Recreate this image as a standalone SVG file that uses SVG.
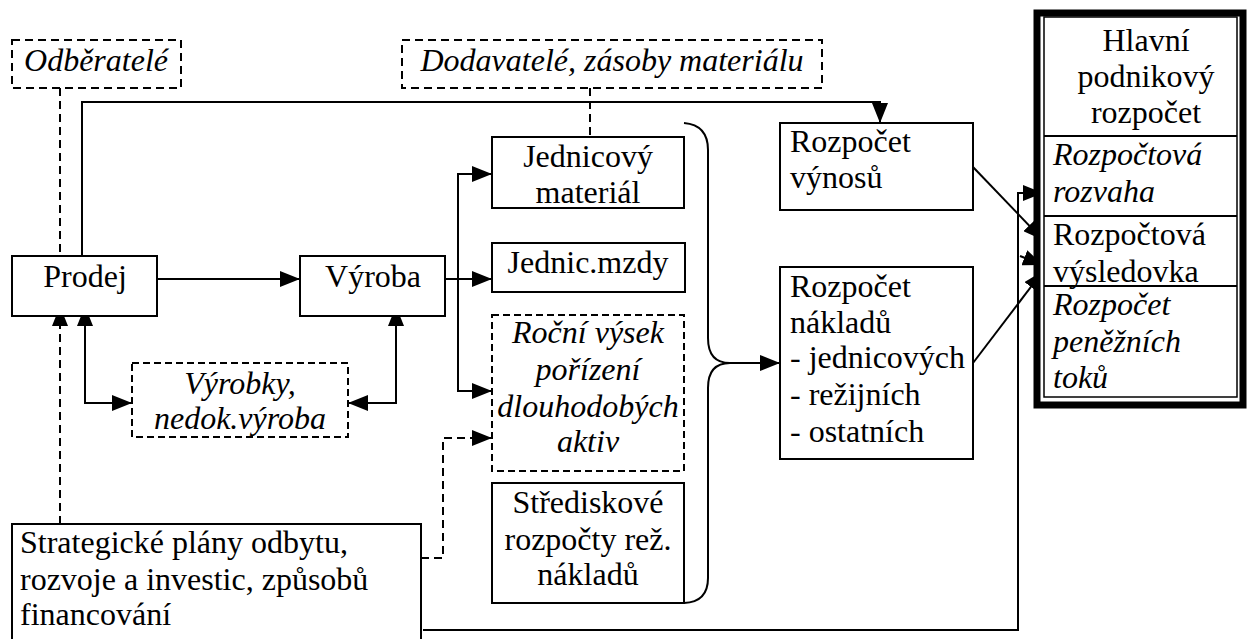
<svg xmlns="http://www.w3.org/2000/svg" width="1248" height="639" viewBox="0 0 1248 639" font-family="Liberation Serif, Times New Roman, serif" font-size="32">
  <style>
    .it { font-style: italic; }
    .c { text-anchor: middle; }
    .box { fill: #fff; stroke: #000; stroke-width: 2; }
    .dbox { fill: #fff; stroke: #000; stroke-width: 2; stroke-dasharray: 8 5; }
    .dbox2 { fill: #fff; stroke: #000; stroke-width: 2; stroke-dasharray: 7 4; }
    .ln { fill: none; stroke: #000; stroke-width: 2; }
    .dln { fill: none; stroke: #000; stroke-width: 2; stroke-dasharray: 8 5; }
    .arr { marker-end: url(#ah); }
    .arr2 { marker-start: url(#ah); marker-end: url(#ah); }
  </style>
  <defs>
    <marker id="ah" viewBox="0 0 20 16" refX="20" refY="8" markerWidth="20" markerHeight="16" markerUnits="userSpaceOnUse" orient="auto-start-reverse">
      <path d="M0,0 L20,8 L0,16 Z" fill="#000"/>
    </marker>
  </defs>
  <rect width="1248" height="639" fill="#fff"/>

  <!-- connectors -->
  <g id="connectors">
    <!-- customers to sales, plans to sales -->
    <path class="dln" d="M60,88 V256"/>
    <path class="dln arr" d="M60,524 V306"/>
    <!-- sales to revenue budget -->
    <path class="ln arr" d="M82,256 V102 H880 V123"/>
    <!-- sales to production -->
    <path class="ln arr" d="M157,279 H300"/>
    <!-- stock links -->
    <path class="ln arr2" d="M85,306 V403 H132"/>
    <path class="ln arr2" d="M396,306 V403 H348"/>
    <!-- production branches -->
    <path class="ln arr" d="M445,279 H492"/>
    <path class="ln arr2" d="M492,174 H458 V391 H492"/>
    <!-- strategic plans to investments -->
    <path class="dln arr" d="M421,558 H443 V438 H492"/>
    <!-- suppliers to material -->
    <path class="dln" d="M590,88 V137"/>
    <!-- brace collecting the cost budgets -->
    <path class="ln" d="M684,123 Q708,125 708,150 V338 Q708,363 730,363 Q708,363 708,388 V578 Q708,602 684,603"/>
    <path class="ln arr" d="M730,363 H780"/>
    <!-- into master budget -->
    <path class="ln arr" d="M973,167 L1043,240"/>
    <path class="ln arr" d="M1020,256 L1043,265"/>
    <path class="ln arr" d="M973,363 L1043,271"/>
    <path class="ln arr" d="M423,630 H1018 V193 H1043"/>
  </g>

  <g id="odberatele">
    <rect class="dbox" x="12" y="40" width="169" height="48"/>
    <text class="it c" x="96" y="71">Odběratelé</text>
  </g>

  <g id="dodavatele">
    <rect class="dbox" x="402" y="40" width="420" height="48"/>
    <text class="it c" x="612" y="71">Dodavatelé, zásoby materiálu</text>
  </g>

  <g id="prodej">
    <rect class="box" x="12" y="256" width="145" height="60"/>
    <text class="c" x="85" y="287">Prodej</text>
  </g>

  <g id="vyroba">
    <rect class="box" x="300" y="256" width="145" height="60"/>
    <text class="c" x="373" y="287">Výroba</text>
  </g>

  <g id="vyrobky">
    <rect class="dbox2" x="132" y="363" width="216" height="74"/>
    <text class="it c" x="240" y="394">Výrobky,</text>
    <text class="it c" x="240" y="429">nedok.výroba</text>
  </g>

  <g id="jednicovy-material">
    <rect class="box" x="492" y="137" width="192" height="71"/>
    <text class="c" x="588" y="167">Jednicový</text>
    <text class="c" x="588" y="203">materiál</text>
  </g>

  <g id="jednic-mzdy">
    <rect class="box" x="492" y="243" width="193" height="49"/>
    <text class="c" x="588" y="273">Jednic.mzdy</text>
  </g>

  <g id="rocni-vysek">
    <rect class="dbox2" x="492" y="315" width="192" height="156"/>
    <text class="it c" x="588" y="343">Roční výsek</text>
    <text class="it c" x="588" y="380">pořízení</text>
    <text class="it c" x="588" y="417">dlouhodobých</text>
    <text class="it c" x="588" y="452">aktiv</text>
  </g>

  <g id="strediskove">
    <rect class="box" x="492" y="483" width="192" height="120"/>
    <text class="c" x="588" y="513">Střediskové</text>
    <text class="c" x="588" y="550">rozpočty rež.</text>
    <text class="c" x="588" y="585">nákladů</text>
  </g>

  <g id="rozpocet-vynosu">
    <rect class="box" x="780" y="123" width="193" height="87"/>
    <text x="790" y="152">Rozpočet</text>
    <text x="790" y="188">výnosů</text>
  </g>

  <g id="rozpocet-nakladu">
    <rect class="box" x="780" y="267" width="193" height="192"/>
    <text x="790" y="297">Rozpočet</text>
    <text x="790" y="333">nákladů</text>
    <text x="790" y="368">- jednicových</text>
    <text x="790" y="405">- režijních</text>
    <text x="790" y="442">- ostatních</text>
  </g>

  <g id="strategicke-plany">
    <rect class="box" x="12" y="524" width="409" height="130"/>
    <text x="20" y="553">Strategické plány odbytu,</text>
    <text x="20" y="590">rozvoje a investic, způsobů</text>
    <text x="20" y="625">financování</text>
  </g>

  <g id="hlavni-rozpocet">
    <rect x="1037" y="13" width="206" height="392" fill="#fff" stroke="#000" stroke-width="7"/>
    <rect x="1044" y="17" width="193" height="380" fill="none" stroke="#000" stroke-width="1.5"/>
    <line x1="1044" y1="136" x2="1237" y2="136" stroke="#000" stroke-width="2"/>
    <line x1="1044" y1="216" x2="1237" y2="216" stroke="#000" stroke-width="2"/>
    <line x1="1044" y1="286" x2="1237" y2="286" stroke="#000" stroke-width="2"/>
    <text class="c" x="1146" y="51">Hlavní</text>
    <text class="c" x="1146" y="87">podnikový</text>
    <text class="c" x="1146" y="123">rozpočet</text>
    <text class="it" x="1053" y="165">Rozpočtová</text>
    <text class="it" x="1053" y="202">rozvaha</text>
    <text x="1053" y="245">Rozpočtová</text>
    <text x="1053" y="282">výsledovka</text>
    <text class="it" x="1053" y="315">Rozpočet</text>
    <text class="it" x="1053" y="352">peněžních</text>
    <text class="it" x="1053" y="388">toků</text>
  </g>
</svg>
